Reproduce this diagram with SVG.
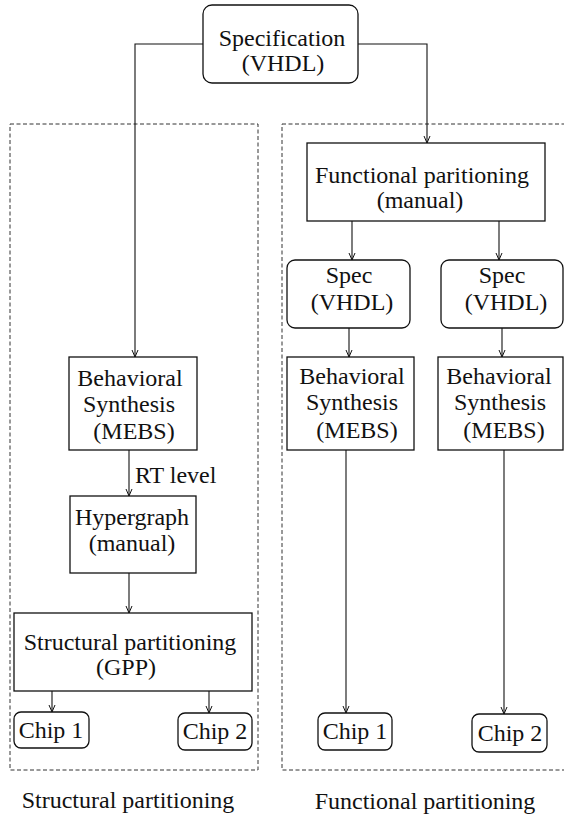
<svg xmlns="http://www.w3.org/2000/svg" width="564" height="818" viewBox="0 0 564 818">
<defs>
<marker id="arr" markerWidth="10" markerHeight="10" refX="8" refY="5" orient="auto" markerUnits="userSpaceOnUse">
<path d="M1,2 L8,5 L1,8" fill="none" stroke="#111" stroke-width="1"/>
</marker>
<style>
.box{fill:#fff;stroke:#111;stroke-width:1.3}
.dash{fill:none;stroke:#333;stroke-width:1;stroke-dasharray:4 2.5}
.ln{fill:none;stroke:#111;stroke-width:1.1;marker-end:url(#arr)}
.t{font-family:'Liberation Serif','Times New Roman',Times,serif;font-size:24px;fill:#111;text-anchor:middle}
</style>
</defs>
<rect width="564" height="818" fill="#fff"/>
<g id="regions">
<rect class="dash" x="10" y="124" width="248" height="646"/>
<rect class="dash" x="282" y="124" width="300" height="646"/>
</g>
<g id="connectors">
<path class="ln" d="M203,44 H135 V357"/>
<path class="ln" d="M358,44 H427 V143"/>
<path class="ln" d="M352,221 V260"/>
<path class="ln" d="M499,221 V260"/>
<path class="ln" d="M349,328 V357"/>
<path class="ln" d="M502,328 V357"/>
<path class="ln" d="M129,450 V496"/>
<path class="ln" d="M129,573 V613"/>
<path class="ln" d="M52,691 V712"/>
<path class="ln" d="M209,691 V713"/>
<path class="ln" d="M346,450 V713"/>
<path class="ln" d="M504,450 V714"/>
<text class="t" x="135" y="483" style="text-anchor:start">RT level</text>
</g>
<g id="spec">
<rect class="box" x="203" y="5" width="155" height="78" rx="9"/>
<text class="t" x="282" y="46">Specification</text>
<text class="t" x="283" y="71">(VHDL)</text>
</g>
<g id="funcpart">
<rect class="box" x="307" y="143" width="238" height="78"/>
<text class="t" x="422" y="183">Functional paritioning</text>
<text class="t" x="420" y="208">(manual)</text>
</g>
<g id="spec1">
<rect class="box" x="287" y="260" width="123" height="68" rx="8"/>
<text class="t" x="349" y="283">Spec</text>
<text class="t" x="352" y="310">(VHDL)</text>
</g>
<g id="spec2">
<rect class="box" x="441" y="260" width="122" height="68" rx="8"/>
<text class="t" x="502" y="283">Spec</text>
<text class="t" x="506" y="310">(VHDL)</text>
</g>
<g id="bs1">
<rect class="box" x="287" y="357" width="127" height="93"/>
<text class="t" x="352" y="384">Behavioral</text>
<text class="t" x="352" y="410">Synthesis</text>
<text class="t" x="357" y="438">(MEBS)</text>
</g>
<g id="bs2">
<rect class="box" x="438" y="357" width="125" height="93"/>
<text class="t" x="499" y="384">Behavioral</text>
<text class="t" x="500" y="410">Synthesis</text>
<text class="t" x="504" y="438">(MEBS)</text>
</g>
<g id="bsleft">
<rect class="box" x="69" y="357" width="128" height="93"/>
<text class="t" x="130" y="386">Behavioral</text>
<text class="t" x="129" y="412">Synthesis</text>
<text class="t" x="134" y="439">(MEBS)</text>
</g>
<g id="hyper">
<rect class="box" x="70" y="496" width="126" height="77"/>
<text class="t" x="132" y="525">Hypergraph</text>
<text class="t" x="132" y="551">(manual)</text>
</g>
<g id="structpart">
<rect class="box" x="14" y="613" width="238" height="78"/>
<text class="t" x="130" y="650">Structural partitioning</text>
<text class="t" x="126" y="675">(GPP)</text>
</g>
<g id="chip1s">
<rect class="box" x="14" y="712" width="75" height="36" rx="7"/>
<text class="t" x="51" y="738">Chip 1</text>
</g>
<g id="chip2s">
<rect class="box" x="178" y="713" width="74" height="37" rx="7"/>
<text class="t" x="215" y="739">Chip 2</text>
</g>
<g id="chip1f">
<rect class="box" x="318" y="713" width="74" height="37" rx="7"/>
<text class="t" x="355" y="739">Chip 1</text>
</g>
<g id="chip2f">
<rect class="box" x="472" y="714" width="75" height="38" rx="7"/>
<text class="t" x="510" y="741">Chip 2</text>
</g>
<g id="captions">
<text class="t" x="128" y="808">Structural partitioning</text>
<text class="t" x="425" y="809">Functional partitioning</text>
</g>
</svg>
